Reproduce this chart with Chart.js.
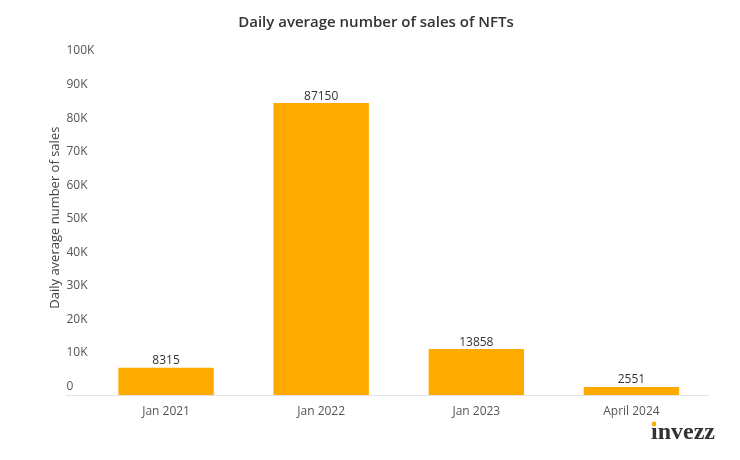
<!DOCTYPE html>
<html>
<head>
<meta charset="utf-8">
<script src="https://cdn.jsdelivr.net/npm/chart.js@4"></script>
<style>
  html, body { margin: 0; padding: 0; background: #fff; }
  #wrap { width: 740px; height: 460px; }
</style>
</head>
<body>
<div id="wrap"><canvas id="barChart"></canvas></div>
<script>
const categories = ['Jan 2021', 'Jan 2022', 'Jan 2023', 'April 2024'];
const sales = [8315, 87150, 13858, 2551];
const yTicks = [0, 10000, 20000, 30000, 40000, 50000, 60000, 70000, 80000, 90000, 100000];

const FONT = "'Open Sans', sans-serif";

// value labels on top of the bars
const barLabels = {
  id: 'barLabels',
  afterDatasetsDraw(chart) {
    const ctx = chart.ctx;
    const meta = chart.getDatasetMeta(0);
    ctx.save();
    ctx.font = '12px ' + FONT;
    ctx.fillStyle = '#333';
    ctx.textAlign = 'center';
    ctx.textBaseline = 'bottom';
    meta.data.forEach((bar, i) => {
      ctx.fillText(String(sales[i]), bar.x, bar.y - 1);
    });
    ctx.restore();
  }
};

// invezz logo, bottom right
const logo = {
  id: 'logo',
  afterDraw(chart) {
    const ctx = chart.ctx;
    ctx.save();
    ctx.font = 'bold 24px "Liberation Serif", serif';
    ctx.fillStyle = '#333';
    ctx.textAlign = 'right';
    ctx.textBaseline = 'alphabetic';
    ctx.fillText('\u0131nvezz', 715, 439);
    ctx.fillStyle = '#FFAA00';
    ctx.beginPath();
    ctx.arc(654, 424, 2.4, 0, Math.PI * 2);
    ctx.fill();
    ctx.restore();
  }
};

new Chart(document.getElementById('barChart'), {
  type: 'bar',
  data: {
    labels: categories,
    datasets: [{
      label: 'Daily average number of sales',
      data: sales,
      backgroundColor: '#FFAA00',
      categoryPercentage: 1,
      barPercentage: 0.615
    }]
  },
  options: {
    responsive: true,
    maintainAspectRatio: false,
    animation: false,
    layout: { padding: { left: 43, right: 31, top: 0, bottom: 32 } },
    plugins: {
      legend: { display: false },
      tooltip: { enabled: false },
      title: {
        display: true,
        text: 'Daily average number of sales of NFTs',
        color: '#333',
        font: { family: FONT, size: 15, weight: '600' },
        padding: { top: 14, bottom: 28 }
      }
    },
    scales: {
      x: {
        grid: { display: false, drawTicks: false },
        border: { display: false },
        ticks: { color: '#555', font: { family: FONT, size: 12 }, padding: 9 }
      },
      y: {
        min: 0,
        max: 100000,
        weight: 0,
        afterBuildTicks: s => { s.ticks = yTicks.map(v => ({ value: v })); },
        afterFit: s => { s.width = 22.5; },
        border: { display: false },
        grid: {
          color: c => (c.tick && c.tick.value === 0 ? '#e3e3e3' : 'rgba(0,0,0,0)'),
          tickLength: 22.5,
          lineWidth: 1
        },
        ticks: {
          mirror: true,
          padding: -22,
          labelOffset: -9,
          color: '#555',
          font: { family: FONT, size: 12 },
          callback: v => (v === 0 ? '0' : v / 1000 + 'K')
        }
      },
      yTitle: {
        type: 'linear',
        position: 'left',
        weight: 1,
        afterFit: s => { s.width = 23; },
        grid: { display: false, drawTicks: false },
        border: { display: false },
        ticks: { display: false },
        title: {
          display: true,
          text: '      Daily average number of sales',
          color: '#444',
          font: { family: FONT, size: 13 },
          padding: { top: 4, bottom: 4 }
        }
      }
    }
  },
  plugins: [barLabels, logo]
});
</script>
</body>
</html>
